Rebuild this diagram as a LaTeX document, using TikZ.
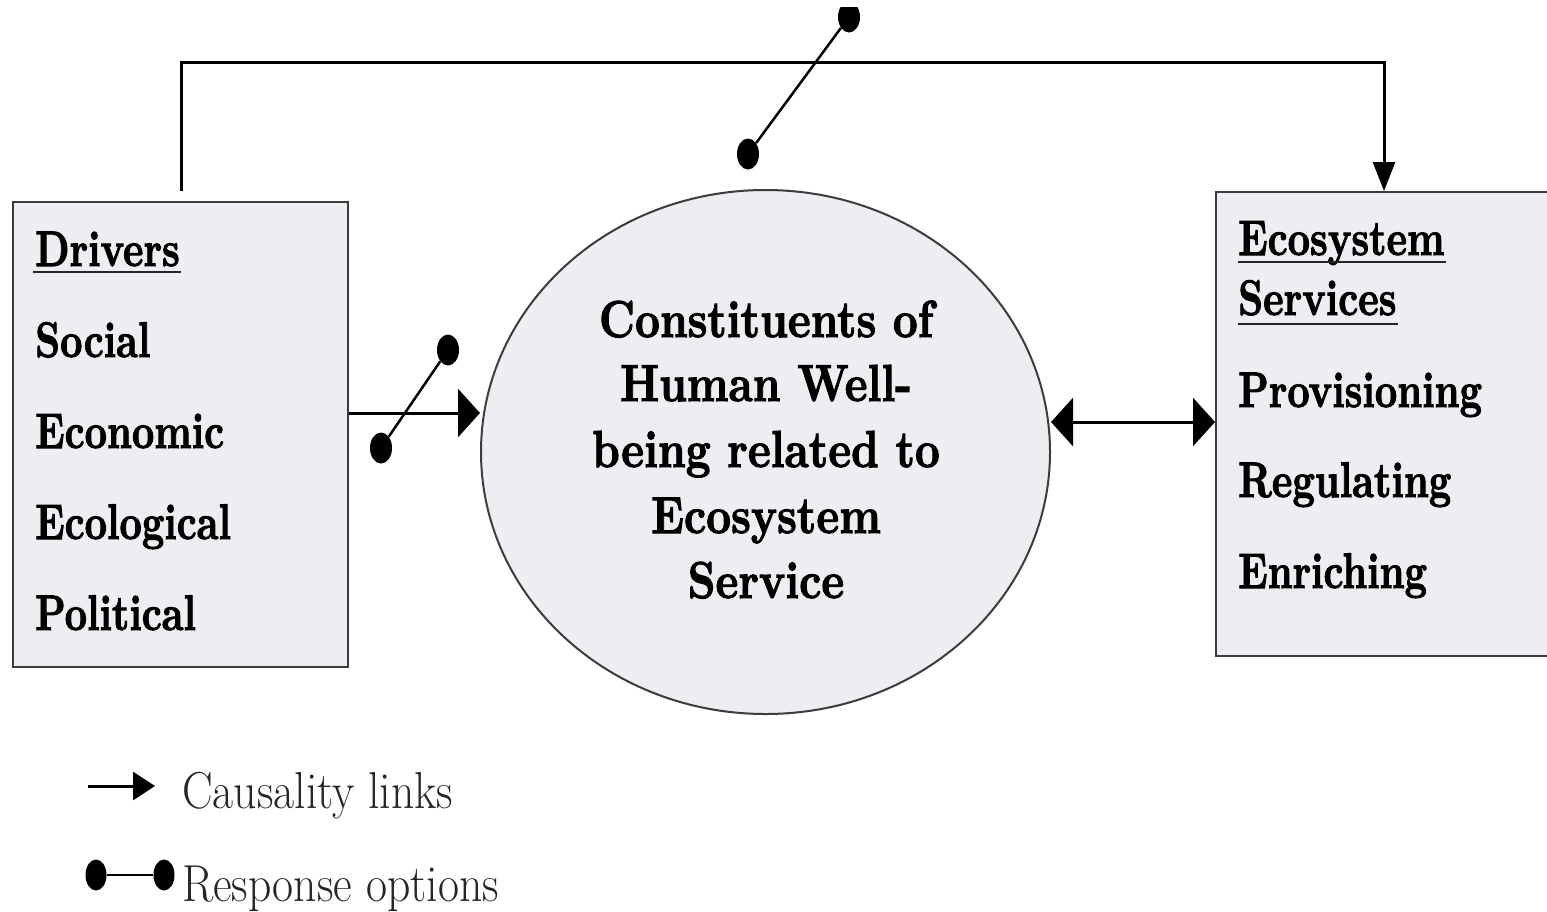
\documentclass[tikz,border=0pt]{standalone}
\usepackage{graphicx}
\usepackage{fontspec}
\newfontfamily\hvfont[FakeBold=2]{lmroman10-bold.otf}
\usetikzlibrary{arrows.meta,shapes.geometric}
\definecolor{boxfill}{RGB}{237,237,242}
\definecolor{boxline}{RGB}{60,60,60}
\newcommand\bt[1]{\scalebox{0.78}[1]{\fontsize{50}{60}\hvfont #1}}
\newcommand\et[1]{\scalebox{0.835}[1]{\fontsize{52}{60}\hvfont #1}}
\newcommand\lgt[1]{\scalebox{0.88}[1]{\fontsize{52}{60}\selectfont #1}}
\tikzset{
  panel/.style={draw=boxline, line width=2pt, fill=boxfill, rectangle, inner sep=0pt},
  btxt/.style={anchor=base west, inner sep=0pt, text=black},
  etxt/.style={anchor=base, inner sep=0pt, text=black},
  causal/.style={draw=black, line width=3pt},
  bigtip/.style={-{Triangle[length=22pt,width=48pt]}},
  dbltip/.style={{Triangle[length=22pt,width=48pt]}-{Triangle[length=22pt,width=48pt]}},
  toptip/.style={-{Triangle[length=29pt,width=22pt]}},
  legtip/.style={-{Triangle[length=22pt,width=28pt]}},
  dot/.style={ellipse, fill=black, draw=none, minimum width=22pt, minimum height=31pt, inner sep=0pt},
  resp/.style={draw=black, line width=2.5pt},
  uline/.style={draw=black!85, line width=2pt}
}
\begin{document}
\begin{tikzpicture}[x=1pt,y=-1pt]
\useasboundingbox (0,0) rectangle (1547,911);
\fill[white] (0,0) rectangle (1547,911);
\clip (0,7) rectangle (1547,911);

% boxes and ellipse
\node[panel, minimum width=335pt, minimum height=465pt] (drv) at (180.5,434.5) {};
\node[panel, minimum width=344pt, minimum height=464pt] (es) at (1388,424) {};
\node[ellipse, draw=boxline, line width=2pt, fill=boxfill, minimum width=569pt, minimum height=524pt, inner sep=0pt] (ell) at (765.5,452) {};

% left box text
\node[btxt] (d0) at (35,266) {\bt{Drivers}};
\node[btxt] (d1) at (35,357) {\bt{Social}};
\node[btxt] (d2) at (35,448) {\bt{Economic}};
\node[btxt] (d3) at (35,539) {\bt{Ecological}};
\node[btxt] (d4) at (35,630) {\bt{Political}};
\draw[uline] ([yshift=-6pt,xshift=-2pt]d0.base west) -- ([yshift=-6pt,xshift=1pt]d0.base east);

% right box text
\node[btxt] (e0) at (1238,255) {\bt{Ecosystem}};
\node[btxt] (e1) at (1238,315) {\bt{Services}};
\node[btxt] (e2) at (1238,407) {\bt{Provisioning}};
\node[btxt] (e3) at (1238,497) {\bt{Regulating}};
\node[btxt] (e4) at (1238,588) {\bt{Enriching}};
\draw[uline] ([yshift=-7pt]e0.base west) -- ([yshift=-7pt,xshift=1pt]e0.base east);
\draw[uline] ([yshift=-9pt]e1.base west) -- ([yshift=-9pt,xshift=1pt]e1.base east);

% ellipse text
\node[etxt] (c0) at (766,337) {\et{Constituents of}};
\node[etxt] (c1) at (766,401) {\et{Human Well-}};
\node[etxt] (c2) at (766,467) {\et{being related to}};
\node[etxt] (c3) at (766,533) {\et{Ecosystem}};
\node[etxt] (c4) at (766,598) {\et{Service}};

% connectors
\coordinate (tstart) at (181,191);
\coordinate (tright) at (1384,62);
\draw[causal, toptip] (tstart) |- (tright) -- (tright |- es.north);
\draw[causal, bigtip] (drv.east |- 0,413) -- (ell.west |- 0,413);
\draw[causal, dbltip] (ell.east |- 0,422) -- (es.west |- 0,422);

% response options
\node[dot] (r1a) at (448,350) {};
\node[dot] (r1b) at (381,448) {};
\draw[resp] (r1a) -- (r1b);
\node[dot] (r2a) at (849,17) {};
\node[dot] (r2b) at (748,154) {};
\draw[resp] (r2a) -- (r2b);

% legend
\coordinate (la1) at (88,786);
\coordinate (la2) at (155,786);
\draw[causal, legtip] (la1) -- (la2);
\node[btxt, text=black!85] (lt1) at (182,808) {\lgt{Causality links}};
\node[dot, minimum width=21pt] (lg1) at (96,875) {};
\node[dot, minimum width=21pt] (lg2) at (164,875) {};
\draw[resp] (lg1) -- (lg2);
\node[btxt, text=black!85] (lt2) at (182,901) {\lgt{Response options}};
\end{tikzpicture}
\end{document}
